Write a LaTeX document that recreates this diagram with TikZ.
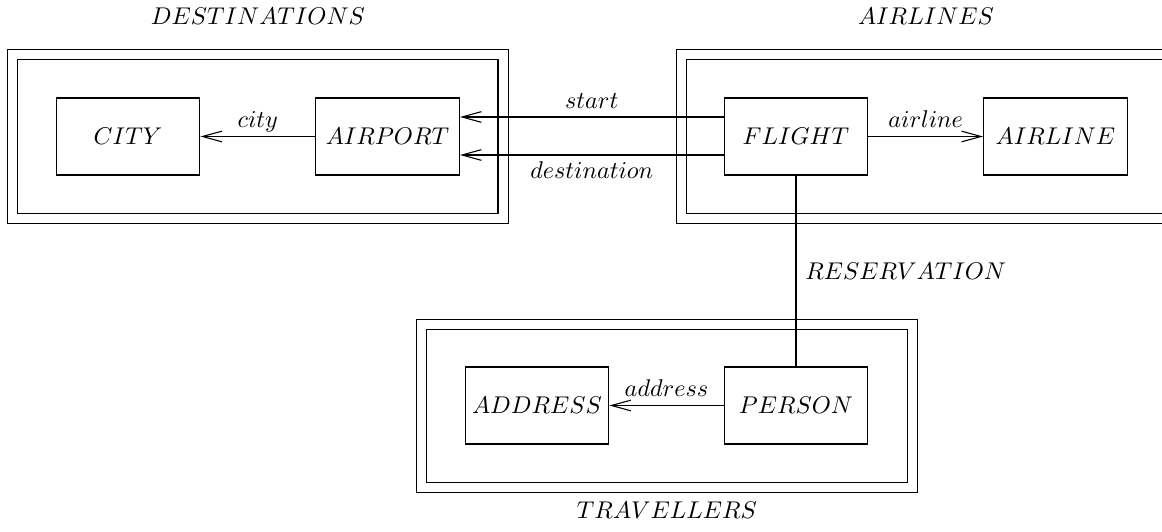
\documentclass[tikz,border=0pt]{standalone}
\usetikzlibrary{arrows.meta}
\begin{document}
\begin{tikzpicture}[x=0.413pt,y=-0.413pt,
  entity/.style={draw, line width=0.45pt, minimum width=59.4pt, minimum height=31.8pt, inner sep=0pt},
  frame/.style={draw, double, double distance=3.7pt, line width=0.45pt, inner sep=0pt, minimum width=202.6pt, minimum height=67.5pt},
  arr/.style={-{Straight Barb[length=8pt,width=4.4pt]}, line width=0.45pt},
  conn/.style={line width=0.45pt},
  lbl/.style={text depth=0pt, inner sep=3.3pt},
  title/.style={anchor=base, inner sep=0pt}]
\useasboundingbox (0,0) rectangle (1162,532);
\clip (0,0) rectangle (1162,532);

% frames
\node[frame] (destf) at (257.75,136.5) {};
\node[frame] (airf) at (926.5,136.5) {};
\node[frame] (travf) at (667,406) {};

\node[title] (destt) at (258,25) {$DESTINATIONS$};
\node[title] (airt) at (926,25) {$AIRLINES$};
\node[title] (travt) at (667,519) {$TRAVELLERS$};

% entities
\node[entity] (city) at (128,136.5) {$CITY$};
\node[entity] (airport) at (387.5,136.5) {$AIRPORT$};
\node[entity] (flight) at (796,136.5) {$FLIGHT$};
\node[entity] (airline) at (1055.5,136.5) {$AIRLINE$};
\node[entity] (address) at (537,405.5) {$ADDRESS$};
\node[entity] (person) at (796,405.5) {$PERSON$};

\coordinate (ystart) at (0,117);
\coordinate (ydest) at (0,155);

% connectors
\draw[arr] (flight.west |- ystart) -- node[above, lbl] (lstart) {$start$} (airport.east |- ystart);
\draw[arr] (flight.west |- ydest) -- node[below, lbl, inner sep=2.6pt] (ldest) {$destination$} (airport.east |- ydest);
\draw[arr] (airport.west) -- node[above, lbl] (lcity) {$city$} (city.east);
\draw[arr] (flight.east) -- node[above, lbl] (lairline) {$airline$} (airline.west);
\draw[arr] (person.west) -- node[above, lbl] (laddress) {$address$} (address.east);
\draw[conn] (flight.south) -- node[right, inner sep=3.6pt] (lres) {$RESERVATION$} (person.north);
\end{tikzpicture}
\end{document}
